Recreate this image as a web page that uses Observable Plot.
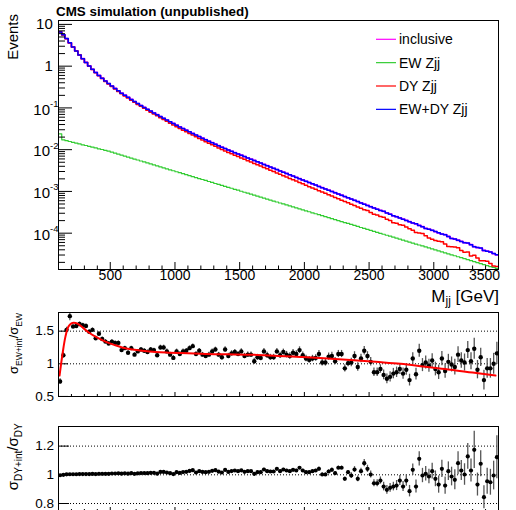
<!DOCTYPE html>
<html><head><meta charset="utf-8">
<script src="https://cdn.jsdelivr.net/npm/d3@7"></script>
<script src="https://cdn.jsdelivr.net/npm/@observablehq/plot@0.6"></script>
<style>
html,body{margin:0;padding:0;background:#fff;overflow:hidden;width:516px;height:510px;}
#chart svg{display:block;}
</style></head><body><div id="chart"></div>
<script>
// ---------- data ----------
const binWidth = 25;
const xMin = 100, xMax = 3500;
const binLow = d3.range(xMin, xMax, binWidth); // 136 bins of Mjj [GeV]

// Events per bin, inclusive / EW+DY (blue)
const totalEvents = [6.61,5.62,4.57,3.63,2.88,2.32,1.86,1.51,1.23,1.01,
0.841,0.708,0.600,0.513,0.442,0.383,0.333,0.292,0.256,0.226,
0.201,0.179,0.159,0.142,0.127,0.114,0.103,0.0927,0.0838,0.0757,
0.0686,0.0621,0.0564,0.0512,0.0465,0.0423,0.0385,0.0351,0.0320,0.0293,
0.0268,0.0245,0.0224,0.0206,0.0189,0.0173,0.0159,0.0147,0.0135,0.0124,
0.0115,0.0106,0.00981,0.00913,0.00849,0.00790,0.00735,0.00683,0.00636,0.00591,
0.00550,0.00512,0.00477,0.00444,0.00413,0.00384,0.00358,0.00333,0.00310,0.00289,
0.00269,0.00250,0.00233,0.00217,0.00202,0.00188,0.00175,0.00163,0.00152,0.00142,
0.00132,0.00123,0.00115,0.00107,9.98e-4,9.30e-4,8.68e-4,8.09e-4,7.54e-4,7.03e-4,
6.56e-4,6.11e-4,5.70e-4,5.31e-4,4.96e-4,4.63e-4,4.32e-4,4.03e-4,3.76e-4,3.51e-4,
3.33e-4,3.05e-4,2.85e-4,2.60e-4,2.48e-4,2.32e-4,2.16e-4,2.02e-4,1.89e-4,1.76e-4,
1.68e-4,1.53e-4,1.43e-4,1.30e-4,1.25e-4,1.17e-4,1.09e-4,1.02e-4,9.53e-5,9.20e-5,
8.32e-5,7.50e-5,7.26e-5,6.78e-5,6.34e-5,5.93e-5,5.80e-5,5.30e-5,4.75e-5,4.53e-5,
4.40e-5,3.85e-5,3.70e-5,3.55e-5,3.24e-5,3.03e-5];

// EW Zjj (green)
const ewEvents = [0.0240,0.0172,0.0164,0.0157,0.0150,0.0144,0.0137,0.0131,0.0126,0.0120,
0.0115,0.0110,0.0105,0.0101,0.00961,0.00919,0.00871,0.00825,0.00782,0.00741,
0.00702,0.00665,0.00630,0.00597,0.00566,0.00536,0.00508,0.00482,0.00456,0.00432,
0.00410,0.00388,0.00368,0.00348,0.00330,0.00313,0.00296,0.00281,0.00266,0.00252,
0.00239,0.00226,0.00215,0.00203,0.00193,0.00183,0.00173,0.00164,0.00155,0.00147,
0.00139,0.00132,0.00125,0.00119,0.00112,0.00107,0.00101,9.56e-4,9.06e-4,8.59e-4,
8.13e-4,7.71e-4,7.30e-4,6.92e-4,6.56e-4,6.22e-4,5.89e-4,5.58e-4,5.29e-4,5.01e-4,
4.75e-4,4.50e-4,4.26e-4,4.04e-4,3.83e-4,3.63e-4,3.44e-4,3.26e-4,3.08e-4,2.92e-4,
2.77e-4,2.62e-4,2.49e-4,2.36e-4,2.23e-4,2.12e-4,2.00e-4,1.90e-4,1.80e-4,1.71e-4,
1.62e-4,1.53e-4,1.45e-4,1.37e-4,1.30e-4,1.23e-4,1.17e-4,1.11e-4,1.05e-4,9.95e-5,
9.43e-5,8.93e-5,8.47e-5,8.02e-5,7.60e-5,7.20e-5,6.82e-5,6.47e-5,6.13e-5,5.80e-5,
5.50e-5,5.21e-5,4.94e-5,4.68e-5,4.43e-5,4.20e-5,3.98e-5,3.77e-5,3.57e-5,3.39e-5,
3.21e-5,3.04e-5,2.88e-5,2.73e-5,2.59e-5,2.45e-5,2.32e-5,2.20e-5,2.09e-5,1.98e-5,
1.87e-5,1.77e-5,1.68e-5,1.59e-5,1.51e-5,1.43e-5];

// DY Zjj (red)
const dyEvents = [6.59,5.60,4.55,3.61,2.86,2.31,1.85,1.50,1.22,1.00,
0.830,0.697,0.590,0.503,0.432,0.374,0.324,0.284,0.248,0.219,
0.194,0.172,0.153,0.136,0.121,0.109,0.0979,0.0879,0.0792,0.0714,
0.0645,0.0582,0.0527,0.0477,0.0432,0.0392,0.0355,0.0323,0.0293,0.0268,
0.0244,0.0224,0.0203,0.0186,0.0170,0.0155,0.0142,0.0131,0.0120,0.0109,
0.0101,0.00928,0.00856,0.00794,0.00737,0.00683,0.00634,0.00587,0.00545,0.00505,
0.00469,0.00435,0.00404,0.00375,0.00347,0.00322,0.00299,0.00277,0.00257,0.00239,
0.00222,0.00205,0.00190,0.00177,0.00164,0.00152,0.00141,0.00130,0.00121,0.00113,
0.00104,9.68e-4,9.01e-4,8.34e-4,7.75e-4,7.18e-4,6.68e-4,6.19e-4,5.74e-4,5.32e-4,
4.94e-4,4.58e-4,4.25e-4,3.94e-4,3.66e-4,3.50e-4,3.15e-4,2.83e-4,2.71e-4,2.51e-4,
2.42e-4,2.16e-4,2.00e-4,1.79e-4,1.72e-4,1.60e-4,1.54e-4,1.41e-4,1.28e-4,1.18e-4,
1.04e-4,1.01e-4,9.83e-5,8.72e-5,7.67e-5,7.13e-5,6.64e-5,6.43e-5,6.26e-5,5.51e-5,
4.80e-5,4.73e-5,4.64e-5,4.46e-5,3.83e-5,3.48e-5,3.54e-5,2.83e-5,2.98e-5,2.55e-5,
2.18e-5,2.19e-5,2.12e-5,1.87e-5,1.64e-5,1.60e-5];

// sigma(EW+int)/sigma(EW) per bin and its error
const ratioEW = [0.73,1.13,1.52,1.73,1.57,1.58,1.61,1.59,1.58,1.49,
1.52,1.39,1.46,1.38,1.34,1.31,1.34,1.32,1.32,1.21,
1.24,1.17,1.24,1.14,1.19,1.22,1.20,1.18,1.22,1.21,
1.13,1.25,1.25,1.19,1.14,1.09,1.19,1.15,1.19,1.20,
1.24,1.27,1.15,1.20,1.14,1.12,1.14,1.19,1.22,1.14,
1.10,1.22,1.12,1.16,1.18,1.15,1.19,1.12,1.14,1.14,
1.04,1.10,1.09,1.19,1.13,1.10,1.10,1.19,1.13,1.18,
1.14,1.12,1.17,1.15,1.21,1.13,1.08,1.06,1.08,1.09,
1.15,1.02,1.02,1.11,1.12,1.04,1.15,1.15,0.93,1.01,
1.02,1.12,0.95,1.08,1.20,1.12,1.03,0.87,0.87,0.92,
0.83,0.77,0.80,0.85,0.87,0.92,0.85,0.91,0.75,1.08,
0.84,1.20,0.98,1.02,0.97,1.05,0.92,0.87,1.08,0.89,
1.03,0.99,0.95,1.14,1.05,1.02,1.21,1.04,1.23,0.91,
1.10,0.75,0.93,0.93,1.00,1.16];
const ratioEWErr = [0.04,0.04,0.04,0.07,0.03,0.03,0.03,0.03,0.03,0.03,
0.03,0.03,0.03,0.03,0.03,0.03,0.03,0.03,0.03,0.03,
0.03,0.03,0.03,0.03,0.03,0.03,0.03,0.03,0.03,0.03,
0.035,0.035,0.035,0.035,0.035,0.035,0.035,0.035,0.035,0.035,
0.035,0.035,0.035,0.035,0.035,0.035,0.035,0.035,0.035,0.035,
0.04,0.04,0.04,0.04,0.04,0.04,0.04,0.04,0.04,0.04,
0.045,0.045,0.045,0.045,0.045,0.045,0.045,0.045,0.045,0.045,
0.05,0.05,0.05,0.05,0.05,0.05,0.05,0.05,0.05,0.05,
0.055,0.055,0.055,0.055,0.055,0.055,0.055,0.055,0.055,0.055,
0.065,0.065,0.065,0.065,0.065,0.065,0.065,0.065,0.065,0.065,
0.075,0.075,0.08,0.08,0.08,0.085,0.085,0.085,0.09,0.09,
0.09,0.10,0.10,0.10,0.10,0.105,0.105,0.11,0.11,0.11,
0.115,0.115,0.12,0.12,0.12,0.13,0.13,0.13,0.16,0.14,
0.14,0.15,0.15,0.15,0.16,0.17];

// sigma(DY+int)/sigma(DY) per bin and its error
const ratioDY = [0.997,1.000,1.003,1.004,1.004,1.004,1.005,1.005,1.005,1.005,
1.006,1.005,1.007,1.007,1.007,1.007,1.009,1.009,1.010,1.008,
1.010,1.008,1.011,1.007,1.010,1.012,1.012,1.011,1.014,1.014,
1.008,1.020,1.020,1.016,1.011,1.005,1.018,1.013,1.019,1.021,
1.027,1.032,1.016,1.025,1.020,1.018,1.021,1.028,1.032,1.022,
1.016,1.034,1.020,1.026,1.030,1.025,1.031,1.021,1.025,1.025,
1.007,1.018,1.018,1.037,1.025,1.023,1.023,1.042,1.025,1.037,
1.030,1.025,1.035,1.030,1.049,1.030,1.018,1.018,1.025,1.030,
1.042,1.002,1.002,1.023,1.035,1.011,1.049,1.049,0.972,1.018,
0.995,1.037,0.972,1.025,1.081,1.042,1.002,0.941,0.941,0.960,
0.918,0.895,0.909,0.918,0.925,0.960,0.918,0.960,0.886,1.035,
0.918,1.111,0.995,1.007,0.988,1.025,0.972,0.932,1.042,0.925,
1.025,0.988,0.965,1.081,1.030,1.002,1.128,1.030,1.174,0.932,
1.077,0.844,0.955,0.948,0.995,1.123];
const ratioDYErr = [0.003,0.003,0.003,0.003,0.003,0.003,0.003,0.003,0.003,0.003,
0.003,0.003,0.003,0.003,0.003,0.003,0.003,0.003,0.003,0.003,
0.003,0.003,0.003,0.003,0.003,0.003,0.003,0.003,0.003,0.003,
0.003,0.003,0.003,0.003,0.003,0.003,0.003,0.003,0.003,0.003,
0.005,0.005,0.005,0.005,0.005,0.005,0.005,0.005,0.005,0.005,
0.005,0.005,0.005,0.005,0.005,0.005,0.005,0.005,0.005,0.005,
0.008,0.008,0.008,0.008,0.008,0.008,0.008,0.008,0.008,0.008,
0.008,0.008,0.008,0.008,0.008,0.008,0.008,0.008,0.008,0.008,
0.012,0.012,0.012,0.012,0.012,0.012,0.012,0.012,0.012,0.012,
0.02,0.02,0.02,0.02,0.025,0.025,0.025,0.025,0.025,0.025,
0.03,0.03,0.03,0.03,0.035,0.035,0.035,0.04,0.04,0.04,
0.045,0.05,0.05,0.05,0.05,0.055,0.055,0.06,0.06,0.06,
0.065,0.065,0.07,0.08,0.07,0.075,0.09,0.08,0.13,0.08,
0.09,0.08,0.09,0.09,0.10,0.15];

// fitted curve in the EW ratio panel
const fitMass  = [108,131,154,177,200,218,250,290,334,400,463,530,592,670,747,850,952,1100,1236,1400,1584,1800,1970,2150,2356,2550,2743,2950,3129,3300,3477];
const fitRatio = [0.82,1.15,1.42,1.57,1.62,1.63,1.61,1.55,1.48,1.40,1.34,1.29,1.25,1.22,1.20,1.18,1.17,1.16,1.15,1.145,1.14,1.12,1.105,1.085,1.06,1.03,1.00,0.95,0.91,0.865,0.82];

// ticks and labels
const xMajorTicks = [500,1000,1500,2000,2500,3000,3500];
const xTickLabels = ["500","1000","1500","2000","2500","3000","3500"];
const yLogTicks = [10,1,0.1,0.01,0.001,0.0001];
const yLogBase  = ["10","1","10","10","10","10"];
const yLogExp   = ["","","-1","-2","-3","-4"];
const ewTicks = [0.5,1,1.5];
const ewTickLabels = ["0.5","1","1.5"];
const dyTicks = [0.8,1,1.2];
const dyTickLabels = ["0.8","1","1.2"];
const legendNames  = ["inclusive","EW Zjj","DY Zjj","EW+DY Zjj"];
const legendColors = ["#ff00ff","#33cc33","#ff0000","#0000ff"];

// ---------- layout ----------
const FONT = '"Liberation Sans", Arial, Helvetica, sans-serif';
const W = 516, ML = 58, MR = 18, FW = W - ML - MR;
const style = {fontFamily: FONT, fontSize: "14px", background: "white", color: "black", overflow: "visible"};
const xMinorTicks = d3.range(200, 3500, 100).filter(v => v % 500 !== 0);
const centers = binLow.map(m => m + binWidth / 2);
const idx = d3.range(binLow.length);
function histRows(values) {
  const rows = binLow.map((m, i) => ({m, v: values[i]}));
  rows.push({m: xMax, v: values[values.length - 1]});
  return rows;
}
const yMinorLog = [];
for (const d of [1e-5,1e-4,1e-3,1e-2,1e-1,1]) for (let k = 2; k <= 9; k++) { const v = k*d; if (v >= 1.35e-5 && v <= 12.4) yMinorLog.push(v); }

// ---------- top panel ----------
const topH = 305, topMT = 20, topMB = 36, topFH = topH - topMT - topMB;
const plainIdx = d3.range(yLogTicks.length).filter(i => yLogExp[i] === "");
const expIdx = d3.range(yLogTicks.length).filter(i => yLogExp[i] !== "");
const topPlot = Plot.plot({
  width: W, height: topH, marginLeft: ML, marginRight: MR, marginTop: topMT, marginBottom: topMB,
  style,
  x: {domain: [xMin, xMax], axis: null},
  y: {type: "log", domain: [1.35e-5, 12.4], axis: null},
  marks: [
    Plot.line(histRows(totalEvents), {x: "m", y: "v", curve: "step-after", stroke: legendColors[0], strokeWidth: 1.8, clip: true}),
    Plot.line(histRows(ewEvents), {x: "m", y: "v", curve: "step-after", stroke: legendColors[1], strokeWidth: 1.2, clip: true}),
    Plot.line(histRows(dyEvents), {x: "m", y: "v", curve: "step-after", stroke: legendColors[2], strokeWidth: 1.5, clip: true}),
    Plot.line(histRows(totalEvents), {x: "m", y: "v", curve: "step-after", stroke: legendColors[3], strokeWidth: 1.5, clip: true}),
    Plot.tickY(yMinorLog, {y: d => d, stroke: "black", insetRight: FW - 7}),
    Plot.tickY(yLogTicks, {y: d => d, stroke: "black", insetRight: FW - 14}),
    Plot.tickX(xMinorTicks, {x: d => d, stroke: "black", insetTop: topFH - 3.5}),
    Plot.tickX(xMajorTicks, {x: d => d, stroke: "black", insetTop: topFH - 7}),
    Plot.frame({stroke: "black"}),
    Plot.text(plainIdx, {y: i => yLogTicks[i], text: i => yLogBase[i], frameAnchor: "left", textAnchor: "end", dx: -5.7, fontSize: 15, fill: "black"}),
    Plot.text(expIdx, {y: i => yLogTicks[i], text: i => yLogBase[i], frameAnchor: "left", textAnchor: "end", dx: -8.5, dy: 2, fontSize: 15, fill: "black"}),
    Plot.text(expIdx, {y: i => yLogTicks[i], text: i => yLogExp[i], frameAnchor: "left", textAnchor: "start", dx: -8.5, dy: -4, fontSize: 9.5, fill: "black"}),
    Plot.text(d3.range(6), {x: i => xMajorTicks[i], text: i => xTickLabels[i], frameAnchor: "bottom", dy: 10.5, fontSize: 14, fill: "black"}),
    Plot.text([6], {x: i => xMajorTicks[i], text: i => xTickLabels[i], frameAnchor: "bottom", dy: 10.5, dx: -14, fontSize: 14, fill: "black"})
  ]
});

// ---------- middle panel ----------
const midH = 100, midMT = 7, midMB = 9, midFH = midH - midMT - midMB;
const midPlot = Plot.plot({
  width: W, height: midH, marginLeft: ML, marginRight: MR, marginTop: midMT, marginBottom: midMB,
  style,
  x: {domain: [xMin, xMax], axis: null},
  y: {domain: [0.4992, 1.7856], axis: null},
  marks: [
    Plot.ruleY([1, 1.5], {stroke: "black", strokeDasharray: "1,2"}),
    Plot.tickY(ewTicks, {y: d => d, stroke: "black", insetRight: FW - 10}),
    Plot.tickX(xMinorTicks, {x: d => d, stroke: "black", insetTop: midFH - 2}),
    Plot.tickX(xMajorTicks, {x: d => d, stroke: "black", insetTop: midFH - 4}),
    Plot.ruleX(idx, {x: i => centers[i], y1: i => ratioEW[i] - ratioEWErr[i], y2: i => ratioEW[i] + ratioEWErr[i], stroke: "#555", strokeWidth: 1.3, clip: true}),
    Plot.dot(idx, {x: i => centers[i], y: i => ratioEW[i], r: 2.2, fill: "black", stroke: "none", clip: true}),
    Plot.line(d3.range(fitMass.length), {x: i => fitMass[i], y: i => fitRatio[i], stroke: "#ff0000", strokeWidth: 2, curve: "catmull-rom", clip: true}),
    Plot.frame({stroke: "black"}),
    Plot.text(d3.range(3), {y: i => ewTicks[i], text: i => ewTickLabels[i], frameAnchor: "left", textAnchor: "end", dx: -4.5, fontSize: 13.5, fill: "black"})
  ]
});

// ---------- bottom panel ----------
const botH = 107, botMT = 21, botMB = 0, botFH = botH - botMT - botMB;
const botPlot = Plot.plot({
  width: W, height: botH, marginLeft: ML, marginRight: MR, marginTop: botMT, marginBottom: botMB,
  style,
  x: {domain: [xMin, xMax], axis: null},
  y: {domain: [0.7373, 1.3366], axis: null},
  marks: [
    Plot.ruleY([0.8, 1, 1.2], {stroke: "black", strokeDasharray: "1,2"}),
    Plot.tickY(dyTicks, {y: d => d, stroke: "black", insetRight: FW - 11}),
    Plot.tickX(xMinorTicks, {x: d => d, stroke: "black", insetTop: botFH - 3}),
    Plot.tickX(xMajorTicks, {x: d => d, stroke: "black", insetTop: botFH - 5}),
    Plot.ruleX(idx, {x: i => centers[i], y1: i => ratioDY[i] - ratioDYErr[i], y2: i => ratioDY[i] + ratioDYErr[i], stroke: "#555", strokeWidth: 1.3, clip: true}),
    Plot.dot(idx, {x: i => centers[i], y: i => ratioDY[i], r: 2.1, fill: "black", stroke: "none", clip: true}),
    Plot.frame({stroke: "black"}),
    Plot.text(d3.range(3), {y: i => dyTicks[i], text: i => dyTickLabels[i], frameAnchor: "left", textAnchor: "end", dx: -4.5, fontSize: 13.5, fill: "black"})
  ]
});

// ---------- titles, labels, legend ----------
const ts = d3.select(topPlot);
ts.append("text").attr("x", 56).attr("y", 16).attr("text-anchor", "start").attr("font-weight", "bold").attr("font-size", 13.4).attr("fill", "black")
  .text("CMS simulation (unpublished)");
ts.append("text").attr("transform", "translate(18.3,14) rotate(-90)").attr("text-anchor", "end").attr("font-size", 15).attr("fill", "black")
  .text("Events");
const mj = ts.append("text").attr("x", 499).attr("y", 301.5).attr("text-anchor", "end").attr("font-size", 17).attr("fill", "black");
mj.append("tspan").text("M");
mj.append("tspan").attr("dy", 3.5).attr("font-size", 12).text("jj");
mj.append("tspan").attr("dy", -3.5).text(" [GeV]");
legendNames.forEach((name, i) => {
  const y = 39.3 + i * 23.35;
  ts.append("line").attr("x1", 376).attr("x2", 396).attr("y1", y).attr("y2", y).attr("stroke", legendColors[i]).attr("stroke-width", 1.2);
  ts.append("text").attr("x", 399).attr("y", y).attr("dy", "0.35em").attr("text-anchor", "start").attr("font-size", 14).attr("fill", "black").text(name);
});

function ratioTitle(svg, top, size, sub, a, b) {
  const t = d3.select(svg).append("text").attr("transform", `translate(18.3,${top}) rotate(-90)`)
    .attr("text-anchor", "end").attr("font-size", size).attr("fill", "black");
  t.append("tspan").text("σ");
  t.append("tspan").attr("dy", 3.2).attr("font-size", sub).text(a);
  t.append("tspan").attr("dy", -3.2).text("/σ");
  t.append("tspan").attr("dy", 3.2).attr("font-size", sub).text(b);
}
ratioTitle(midPlot, 8, 13, 8.5, "EW+int", "EW");
ratioTitle(botPlot, 18.3, 15, 10, "DY+int", "DY");

document.getElementById("chart").append(topPlot, midPlot, botPlot);
</script></body></html>
